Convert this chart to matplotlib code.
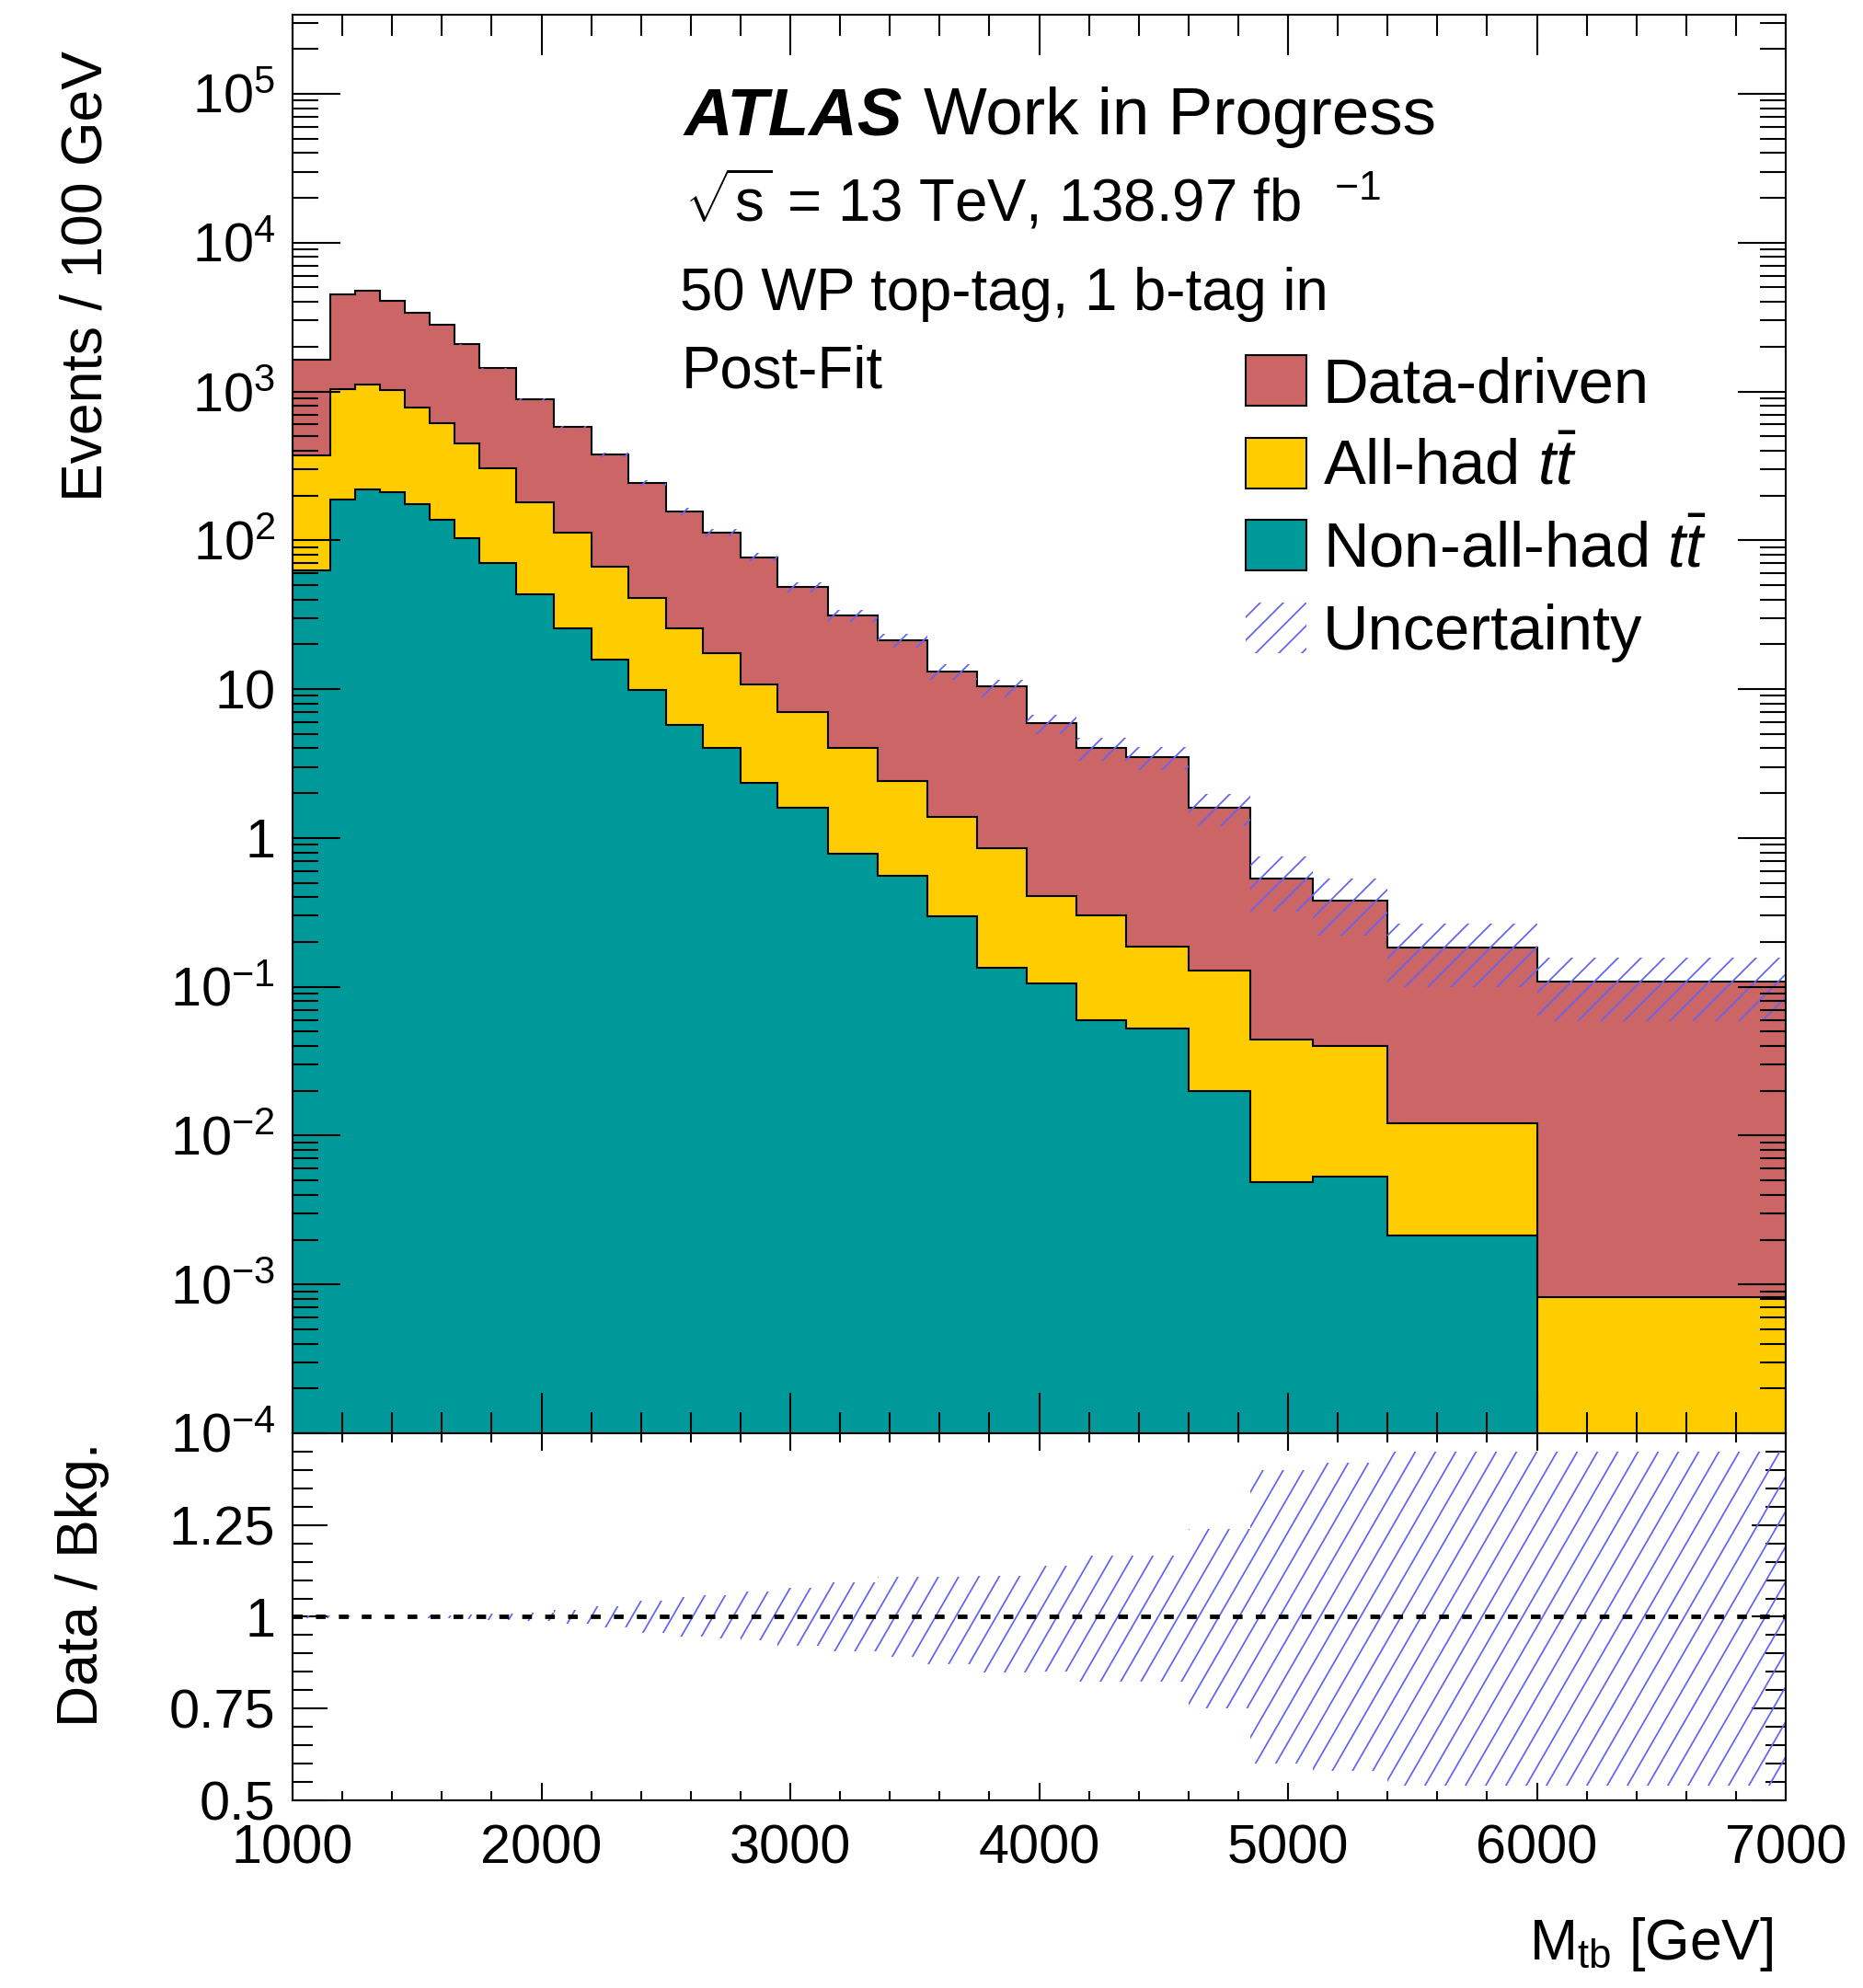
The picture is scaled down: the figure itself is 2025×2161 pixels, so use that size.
import numpy as np
import matplotlib
matplotlib.use("Agg")
import matplotlib.pyplot as plt
from matplotlib.patches import Patch
from matplotlib.collections import LineCollection
from matplotlib.ticker import (FixedLocator, FixedFormatter, LogLocator,
                               FuncFormatter, MultipleLocator, NullFormatter)

plt.rcParams['font.family'] = 'Liberation Sans'
plt.rcParams['mathtext.fontset'] = 'custom'
plt.rcParams['mathtext.rm'] = 'Liberation Sans'
plt.rcParams['mathtext.it'] = 'Liberation Sans:italic'
plt.rcParams['mathtext.bf'] = 'Liberation Sans:bold'
plt.rcParams['hatch.linewidth'] = 0.85

# M_tb binning (GeV) and post-fit yields per bin
edges = [1000, 1150, 1250, 1350, 1450, 1550, 1650, 1750, 1900, 2050, 2200,
         2350, 2500, 2650, 2800, 2950, 3150, 3350, 3550, 3750, 3950, 4150,
         4350, 4600, 4850, 5100, 5400, 6000, 7000]
non_allhad_tt = [62.7, 189, 220, 210, 174, 137, 103, 70, 43.5, 25.5, 15.8,
                 9.86, 5.71, 4.01, 2.35, 1.60, 0.787, 0.559, 0.298, 0.135,
                 0.106, 0.0596, 0.0522, 0.0199, 0.00484, 0.00528, 0.00213, 0.0]
allhad_tt = [308, 851, 886, 806, 608, 474, 346, 234, 136.5, 86.5, 50.6, 31.4,
             19.8, 13.4, 8.45, 5.4, 3.22, 1.87, 1.09, 0.722, 0.300, 0.242,
             0.133, 0.108, 0.0392, 0.0349, 0.0100, 0.000817]
data_driven = [1266, 3440, 3639, 3054, 2593, 2202, 1629, 1132, 705, 465,
               308.6, 200.7, 131.5, 95.6, 66.1, 41.3, 27.1, 18.8, 11.8, 9.54,
               5.50, 3.71, 3.30, 1.47, 0.489, 0.338, 0.171, 0.108]
# relative uncertainty on the total background (up / down)
unc_up = [0.005, 0.004, 0.004, 0.004, 0.005, 0.005, 0.006, 0.008, 0.012,
          0.018, 0.03, 0.044, 0.055, 0.06, 0.069, 0.079, 0.093, 0.108, 0.11,
          0.112, 0.14, 0.166, 0.166, 0.24, 0.40, 0.42, 0.45, 0.45]
unc_down = [0.005, 0.004, 0.004, 0.004, 0.005, 0.005, 0.006, 0.008, 0.012,
            0.018, 0.03, 0.044, 0.055, 0.06, 0.064, 0.079, 0.094, 0.108, 0.13,
            0.152, 0.15, 0.177, 0.177, 0.25, 0.40, 0.42, 0.46, 0.46]

c_dd = '#cc6666'
c_ah = '#ffcc00'
c_nah = '#009999'
c_unc = '#6464f4'

edges = np.array(edges, dtype=float)
teal = np.array(non_allhad_tt)
mid = teal + np.array(allhad_tt)
total = mid + np.array(data_driven)
up = np.array(unc_up)
dn = np.array(unc_down)

W, H = 2025, 2161
fig = plt.figure(figsize=(W / 150, H / 150), dpi=150)
ax = fig.add_axes([0.15704, 0.27904, 0.80148, 0.71356])
axr = fig.add_axes([0.15704, 0.09440, 0.80148, 0.18464], sharex=ax)

floor = 1e-6
for top, col in [(total, c_dd), (mid, c_ah), (teal, c_nah)]:
    h = np.clip(top, floor, None)
    ax.stairs(h, edges, baseline=floor, fill=True, facecolor=col,
              edgecolor='none')
    ax.stairs(h, edges, baseline=floor, fill=False, color='black', lw=1.0)

ax.stairs(total * (1 + up), edges, baseline=total * (1 - dn), fill=True,
          facecolor='none', edgecolor=c_unc, hatch='//', lw=0)

ax.set_yscale('log')
ax.set_xlim(1000, 7000)
ax.set_ylim(1e-4, 3.4e5)


def log_label(v, pos):
    e = int(round(np.log10(v)))
    if e == 0:
        return '1'
    if e == 1:
        return '10'
    return r'$10^{%d}$' % e


ax.yaxis.set_major_locator(LogLocator(base=10, numticks=20))
ax.yaxis.set_minor_locator(LogLocator(base=10, subs=np.arange(2, 10), numticks=20))
ax.yaxis.set_major_formatter(FuncFormatter(log_label))
ax.yaxis.set_minor_formatter(NullFormatter())
ax.xaxis.set_major_locator(MultipleLocator(1000))
ax.xaxis.set_minor_locator(MultipleLocator(200))

ax.tick_params(which='both', direction='in', top=True, right=True,
               labelbottom=False, labelsize=28.5, width=1)
ax.tick_params(axis='y', which='major', length=25, pad=9)
ax.tick_params(axis='y', which='minor', length=13.5)
ax.tick_params(axis='x', which='major', length=21)
ax.tick_params(axis='x', which='minor', length=11)

# ratio panel: steep hatch lines clipped to the uncertainty band
band = axr.stairs(1 + up, edges, baseline=1 - dn, fill=True,
                  facecolor='none', edgecolor='none', lw=0)
w_px = 0.80148 * W
h_px = 0.18464 * H
theta = np.deg2rad(60)
step = 22 / w_px
run = (h_px / np.tan(theta)) / w_px
x0 = np.arange(-run - step, 1 + step, step)
segs = [[(x, 0), (x + run, 1)] for x in x0]
lc = LineCollection(segs, colors=c_unc, linewidths=0.85,
                    transform=axr.transAxes)
axr.add_collection(lc, autolim=False)
lc.set_clip_path(band)

axr.axhline(1, color='black', lw=2.3, ls=(0, (2.2, 3.0)))
axr.set_ylim(0.5, 1.5)
axr.yaxis.set_major_locator(FixedLocator([0.5, 0.75, 1, 1.25, 1.5]))
axr.yaxis.set_major_formatter(FixedFormatter(['0.5', '0.75', '1', '1.25', '']))
axr.yaxis.set_minor_locator(MultipleLocator(0.05))
axr.tick_params(which='both', direction='in', top=True, right=True,
                labelsize=28.5, width=1)
axr.tick_params(axis='y', which='major', length=18, pad=9)
axr.tick_params(axis='y', which='minor', length=10.5)
axr.tick_params(axis='x', which='major', length=9, pad=12)
axr.tick_params(axis='x', which='minor', length=5)

for a in (ax, axr):
    for s in a.spines.values():
        s.set_linewidth(1.0)

ax.set_ylabel('Events / 100 GeV', fontsize=30, rotation_mode='default',
              ha='center', va='top')
ax.yaxis.set_label_coords(-0.138, 0.9747)
axr.set_ylabel('Data / Bkg.', fontsize=30, rotation_mode='default',
               ha='center', va='top')
axr.yaxis.set_label_coords(-0.1407, 0.977)
axr.set_xlabel(r'M$_{\mathrm{tb}}$ [GeV]', fontsize=30, ha='right',
               va='baseline')
axr.xaxis.set_label_coords(0.9914, -0.4336)

# labels
t_atlas = ax.text(0.2619, 0.9154, 'ATLAS', fontsize=35, fontweight='bold',
                  fontstyle='italic', transform=ax.transAxes, va='baseline')
fig.canvas.draw()
bb = t_atlas.get_window_extent()
x_end = ax.transAxes.inverted().transform((bb.x1, bb.y0))[0]
ax.text(x_end + 0.0142, 0.9154, 'Work in Progress', fontsize=35,
        transform=ax.transAxes, va='baseline')
ax.text(0.2625, 0.8543, r'$\sqrt{\mathrm{s}}$ = 13 TeV, 138.97 fb  ${}^{-1}$',
        fontsize=30.5, transform=ax.transAxes, va='baseline')
ax.text(0.2594, 0.7918, '50 WP top-tag, 1 b-tag in', fontsize=30.5,
        transform=ax.transAxes, va='baseline')
ax.text(0.2606, 0.7370, 'Post-Fit', fontsize=30.5, transform=ax.transAxes,
        va='baseline')

handles = [
    Patch(facecolor=c_dd, edgecolor='black', lw=1, label='Data-driven'),
    Patch(facecolor=c_ah, edgecolor='black', lw=1, label=r'All-had $t\bar{t}$'),
    Patch(facecolor=c_nah, edgecolor='black', lw=1,
          label=r'Non-all-had $t\bar{t}$'),
    Patch(facecolor='none', edgecolor=c_unc, hatch='//', lw=0,
          label='Uncertainty'),
]
ax.legend(handles=handles, loc='upper left', bbox_to_anchor=(0.6383, 0.760),
          frameon=False, fontsize=33, handlelength=0.96, handleheight=0.86,
          handletextpad=0.26, labelspacing=0.35, borderpad=0,
          borderaxespad=0)

fig.savefig('out.png', dpi=150)
